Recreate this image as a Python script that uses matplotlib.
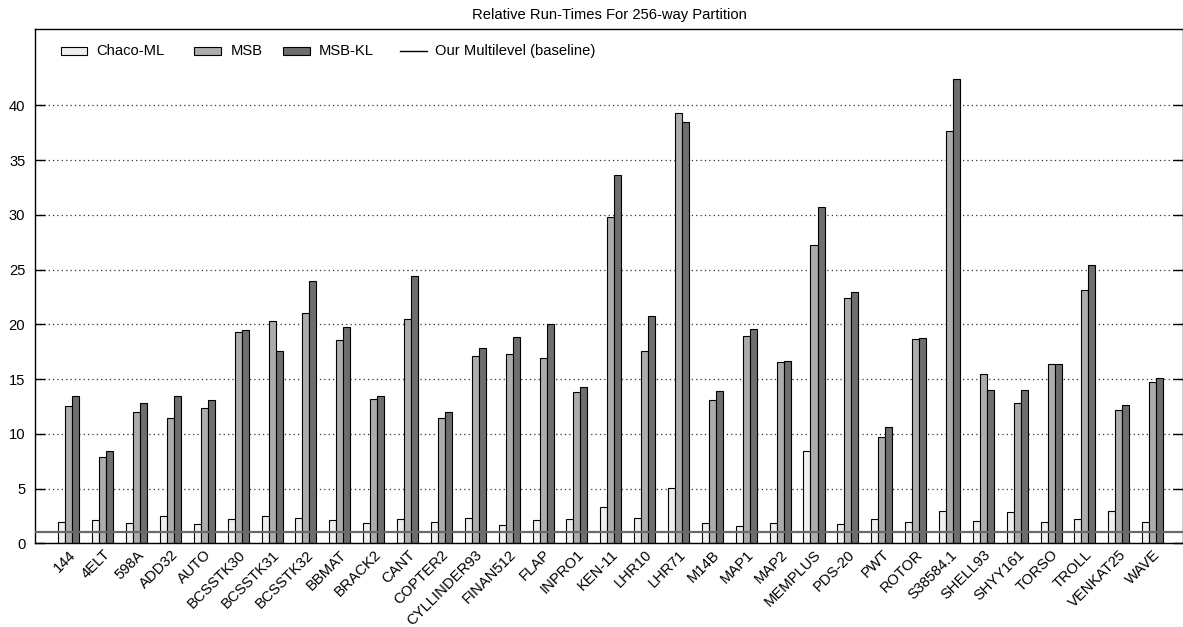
import matplotlib
matplotlib.use("Agg")
import matplotlib.pyplot as plt
import matplotlib.transforms as mtransforms
from matplotlib.patches import Rectangle
from matplotlib.lines import Line2D
import numpy as np

plt.rcParams['font.family'] = ['Liberation Sans', 'DejaVu Sans']

categories = ["144", "4ELT", "598A", "ADD32", "AUTO", "BCSSTK30", "BCSSTK31",
              "BCSSTK32", "BBMAT", "BRACK2", "CANT", "COPTER2", "CYLLINDER93",
              "FINAN512", "FLAP", "INPRO1", "KEN-11", "LHR10", "LHR71", "M14B",
              "MAP1", "MAP2", "MEMPLUS", "PDS-20", "PWT", "ROTOR", "S38584.1",
              "SHELL93", "SHYY161", "TORSO", "TROLL", "VENKAT25", "WAVE"]

chaco_ml = [1.95, 2.16, 1.86, 2.53, 1.73, 2.25, 2.53, 2.31, 2.13, 1.86, 2.19,
            1.92, 2.28, 1.67, 2.13, 2.22, 3.29, 2.28, 5.08, 1.83, 1.55, 1.86,
            8.46, 1.80, 2.19, 1.95, 2.92, 2.07, 2.89, 1.95, 2.22, 2.98, 1.98]
msb = [12.56, 7.91, 11.96, 11.47, 12.32, 19.26, 20.29, 21.05, 18.56, 13.17, 20.47,
       11.47, 17.13, 17.25, 16.92, 13.84, 29.78, 17.58, 39.31, 13.08, 18.95, 16.52,
       27.26, 22.36, 9.74, 18.65, 37.69, 15.49, 12.78, 16.40, 23.15, 12.20, 14.72]
msb_kl = [13.48, 8.43, 12.81, 13.42, 13.11, 19.44, 17.58, 23.97, 19.74, 13.45, 24.43,
          12.02, 17.83, 18.86, 20.05, 14.27, 33.62, 20.78, 38.45, 13.90, 19.59, 16.64,
          30.73, 22.97, 10.65, 18.77, 42.40, 13.96, 14.02, 16.34, 25.40, 12.63, 15.06]
baseline = 1.0
y_ticks = [0, 5, 10, 15, 20, 25, 30, 35, 40]
series_names = ["Chaco-ML", "MSB", "MSB-KL", "Our Multilevel (baseline)"]
series_colors = ['#efefef', '#acacac', '#6e6e6e']

W, H = 1183, 627
fig = plt.figure(figsize=(W / 100, H / 100), dpi=100)
ax = fig.add_axes([35 / W, (H - 543.3) / H, (1182.5 - 35) / W, (543.3 - 28.7) / H])

x = np.arange(len(categories))
bw = 0.207
fs = 10.6
for off, vals, col in zip([-bw, 0, bw], [chaco_ml, msb, msb_kl], series_colors):
    ax.bar(x + off, vals, bw, color=col, edgecolor='black', linewidth=0.8, zorder=2)
ax.axhline(baseline, color='#6a6a6a', linewidth=1.6, zorder=3)

ax.set_xlim(-1.0, 32.88)
ax.set_ylim(0, 47)
ax.set_yticks(y_ticks)
ax.set_yticklabels([str(v) for v in y_ticks], fontsize=fs)
ax.set_xticks(x)
ax.set_xticklabels(categories, rotation=45, ha='right', va='top',
                   rotation_mode='anchor', fontsize=fs)
shift = mtransforms.ScaledTranslation(-5 / 100, 0, fig.dpi_scale_trans)
for lab in ax.get_xticklabels():
    lab.set_transform(lab.get_transform() + shift)
ax.tick_params(axis='y', direction='in', length=7, pad=7, right=True, width=1)
ax.tick_params(axis='x', length=0, pad=3)
ax.yaxis.grid(True, linestyle=(0, (1, 2.5)), color='#333333', linewidth=0.9)
ax.set_axisbelow(True)
for s in ax.spines.values():
    s.set_linewidth(1.0)

fig.text(609 / W, 1 - 15.5 / H, "Relative Run-Times For 256-way Partition",
         ha='center', va='center', fontsize=fs)


def fx(px):
    return px / W


def fy(py):
    return 1 - py / H


# legend (drawn manually to match fixed column positions)
ly = 51
patch_x = [(60.7, 86.7), (194, 221), (283, 310)]
text_x = [96.7, 231, 319]
for (x0, x1), tx, col, name in zip(patch_x, text_x, series_colors, series_names[:3]):
    fig.patches.append(Rectangle((fx(x0), fy(ly + 4)), fx(x1) - fx(x0), fy(ly - 4) - fy(ly + 4),
                                 transform=fig.transFigure, facecolor=col,
                                 edgecolor='black', linewidth=0.8))
    fig.text(fx(tx), fy(ly), name, ha='left', va='center', fontsize=fs)
fig.lines.append(Line2D([fx(400), fx(427)], [fy(ly), fy(ly)], transform=fig.transFigure,
                        color='black', linewidth=1.0))
fig.text(fx(435), fy(ly), series_names[3], ha='left', va='center', fontsize=fs)

fig.savefig("out.png", dpi=100)
